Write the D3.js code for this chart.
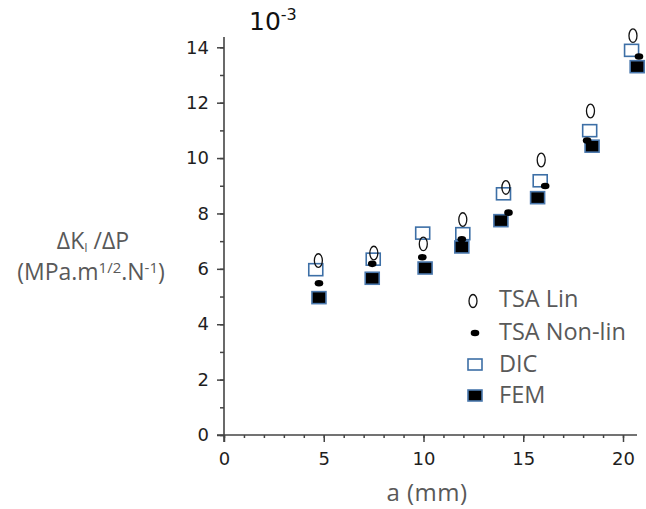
<!DOCTYPE html>
<html>
<head>
<meta charset="utf-8">
<script src="https://cdn.jsdelivr.net/npm/d3@7"></script>
<style>
  html, body { margin: 0; padding: 0; background: #fff; }
  svg { display: block; }
</style>
</head>
<body>
<svg id="chart" width="646" height="509"></svg>
<script>
// Crack length a (mm) and normalised SIF range ΔK_I/ΔP (×10^-3) for each method
const aTsaLin    = [4.73, 7.51, 9.99, 11.97, 14.13, 15.90, 18.37, 20.50];
const kTsaLin    = [6.30, 6.57, 6.90, 7.78, 8.94, 9.93, 11.70, 14.42];
const aTsaNonLin = [4.76, 7.43, 9.94, 11.92, 14.26, 16.10, 18.20, 20.80];
const kTsaNonLin = [5.48, 6.18, 6.42, 7.07, 8.03, 8.99, 10.63, 13.67];
const aDic       = [4.60, 7.48, 9.96, 11.97, 14.01, 15.85, 18.33, 20.43];
const kDic       = [5.97, 6.35, 7.29, 7.27, 8.71, 9.18, 10.99, 13.89];
const aFem       = [4.76, 7.43, 10.08, 11.92, 13.88, 15.72, 18.45, 20.71];
const kFem       = [4.96, 5.66, 6.03, 6.79, 7.74, 8.57, 10.43, 13.30];

const xMajorTicks = [0, 5, 10, 15, 20];
const xMinorTicks = d3.range(0, 21, 1);
const yMajorTicks = [0, 2, 4, 6, 8, 10, 12, 14];
const yMinorTicks = d3.range(0, 15, 1);

const legendLabels = ["TSA Lin", "TSA Non-lin", "DIC", "FEM"];

const svg = d3.select("#chart");
const x = d3.scaleLinear().domain([0, 20]).range([224, 623]);
const y = d3.scaleLinear().domain([0, 14]).range([435, 47.3]);

const axisColor = "#444";
const tickFont = "'DejaVu Sans', Verdana, sans-serif";
const labelFont = "'Open Sans', 'Noto Sans', sans-serif";
const labelColor = "#595959";

// Axes: minor ticks first, then major ticks with labels
const gx = svg.append("g").attr("transform", `translate(0,${y(0)})`);
gx.append("g").call(d3.axisBottom(x).tickValues(xMinorTicks).tickSize(3).tickFormat("").tickSizeOuter(0))
  .call(g => g.select(".domain").remove());
gx.append("g").call(d3.axisBottom(x).tickValues(xMajorTicks).tickSize(7).tickPadding(10).tickSizeOuter(0))
  .call(g => g.select(".domain").remove());

const gy = svg.append("g").attr("transform", `translate(${x(0)},0)`);
gy.append("g").call(d3.axisLeft(y).tickValues(yMinorTicks).tickSize(4).tickFormat("").tickSizeOuter(0))
  .call(g => g.select(".domain").remove());
gy.append("g").call(d3.axisLeft(y).tickValues(yMajorTicks).tickSize(7).tickPadding(8).tickSizeOuter(0))
  .call(g => g.select(".domain").remove());

svg.selectAll(".tick line").attr("stroke", axisColor).attr("stroke-width", 1.5);
svg.selectAll(".tick text")
  .attr("font-family", tickFont).attr("font-size", 18).attr("fill", "#1e1e1e");

// Axis lines, crossing slightly at the origin
svg.append("line").attr("x1", x(0) - 7).attr("x2", 637).attr("y1", y(0)).attr("y2", y(0))
  .attr("stroke", axisColor).attr("stroke-width", 1.6);
svg.append("line").attr("x1", x(0)).attr("x2", x(0)).attr("y1", 37).attr("y2", y(0) + 7)
  .attr("stroke", axisColor).attr("stroke-width", 1.6);

// Marker drawing helpers
const sqW = 14, sqH = 12;
function drawSquares(g, as, ks, fill, stroke) {
  g.selectAll(null).data(d3.zip(as, ks)).join("rect")
    .attr("x", d => x(d[0]) - sqW / 2).attr("y", d => y(d[1]) - sqH / 2)
    .attr("width", sqW).attr("height", sqH)
    .attr("fill", fill).attr("stroke", stroke).attr("stroke-width", 1.6);
}
function drawDots(g, as, ks) {
  g.selectAll(null).data(d3.zip(as, ks)).join("ellipse")
    .attr("cx", d => x(d[0])).attr("cy", d => y(d[1]))
    .attr("rx", 4.3).attr("ry", 3.3).attr("fill", "#000");
}
function drawRings(g, as, ks) {
  g.selectAll(null).data(d3.zip(as, ks)).join("ellipse")
    .attr("cx", d => x(d[0])).attr("cy", d => y(d[1]))
    .attr("rx", 4).attr("ry", 6.8).attr("fill", "none")
    .attr("stroke", "#111").attr("stroke-width", 1.3);
}

const marks = svg.append("g");
drawSquares(marks.append("g"), aDic, kDic, "#fff", "#3d6fa6");
drawSquares(marks.append("g"), aFem, kFem, "#000", "#4a78ad");
drawDots(marks.append("g"), aTsaNonLin, kTsaNonLin);
drawRings(marks.append("g"), aTsaLin, kTsaLin);

// Legend
const legendRows = [307, 340, 372, 403];
const leg = svg.append("g");
const symX = 475;
leg.append("ellipse").attr("cx", symX - 2).attr("cy", legendRows[0] - 6).attr("rx", 4).attr("ry", 6.5)
  .attr("fill", "none").attr("stroke", "#111").attr("stroke-width", 1.3);
leg.append("ellipse").attr("cx", symX).attr("cy", legendRows[1] - 7).attr("rx", 4.3).attr("ry", 3.3)
  .attr("fill", "#000");
leg.append("rect").attr("x", symX - 7).attr("y", legendRows[2] - 13).attr("width", 14).attr("height", 11)
  .attr("fill", "#fff").attr("stroke", "#3d6fa6").attr("stroke-width", 1.6);
leg.append("rect").attr("x", symX - 7).attr("y", legendRows[3] - 13).attr("width", 14).attr("height", 11)
  .attr("fill", "#000").attr("stroke", "#4a78ad").attr("stroke-width", 1.6);
leg.selectAll("text.lbl").data(legendLabels).join("text")
  .attr("class", "lbl")
  .attr("x", 499).attr("y", (d, i) => legendRows[i])
  .attr("font-family", labelFont).attr("font-size", 23.5).attr("fill", labelColor)
  .text(d => d);

// Scale factor above the y axis
const mult = svg.append("text").attr("x", 249).attr("y", 30)
  .attr("font-family", tickFont).attr("font-size", 25).attr("fill", "#111");
mult.append("tspan").text("10");
mult.append("tspan").attr("dy", -10).attr("font-size", 16).text("-3");

// X axis title
svg.append("text").attr("x", 427).attr("y", 501).attr("text-anchor", "middle")
  .attr("font-family", labelFont).attr("font-size", 24).attr("letter-spacing", 0.5).attr("fill", labelColor)
  .text("a (mm)");

// Y axis title (two lines)
const t1 = svg.append("text").attr("x", 93).attr("y", 249).attr("text-anchor", "middle")
  .attr("font-family", labelFont).attr("font-size", 23).attr("fill", labelColor);
t1.append("tspan").text("ΔK");
t1.append("tspan").attr("dy", 3).attr("font-size", 12).text("I");
t1.append("tspan").attr("dy", -3).text(" /ΔP");

const t2 = svg.append("text").attr("x", 91).attr("y", 280).attr("text-anchor", "middle")
  .attr("font-family", labelFont).attr("font-size", 23).attr("fill", labelColor);
t2.append("tspan").text("(MPa.m");
t2.append("tspan").attr("dy", -7).attr("font-size", 15).text("1/2");
t2.append("tspan").attr("dy", 7).text(".N");
t2.append("tspan").attr("dy", -7).attr("font-size", 15).text("-1");
t2.append("tspan").attr("dy", 7).text(")");
</script>
</body>
</html>
